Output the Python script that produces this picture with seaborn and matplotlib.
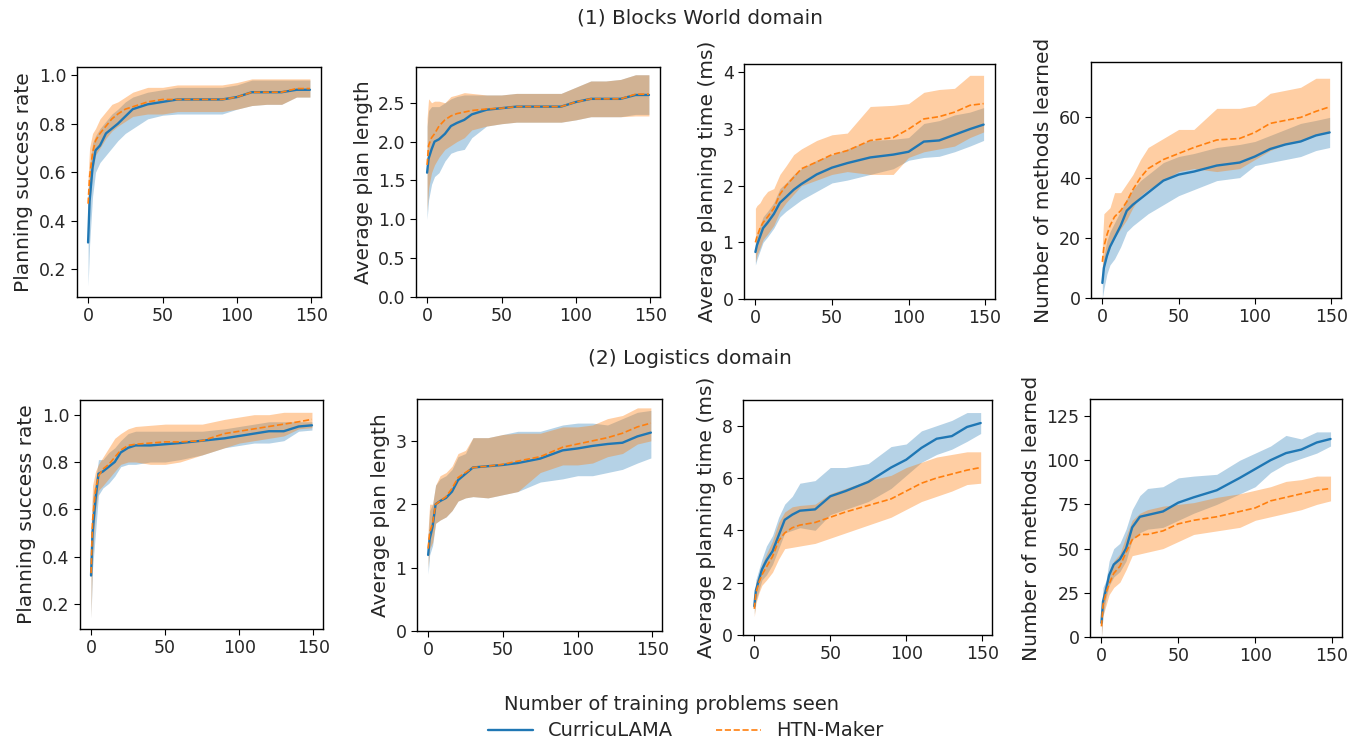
import matplotlib
matplotlib.use("Agg")
import matplotlib.pyplot as plt
import seaborn as sns

# number of training problems seen (checkpoints)
X = [0, 1, 3, 5, 8, 12, 16, 20, 25, 30, 40, 50, 60, 75, 90, 100, 110, 120, 130, 140, 149]

# ---- (1) Blocks World ----
BW_SUCC_CL = [0.31, 0.48, 0.62, 0.69, 0.71, 0.76, 0.78, 0.80, 0.83, 0.86, 0.88, 0.89, 0.90, 0.90, 0.90, 0.91, 0.93, 0.93, 0.93, 0.94, 0.94]
BW_SUCC_CL_LO = [0.13, 0.30, 0.50, 0.60, 0.64, 0.67, 0.70, 0.73, 0.76, 0.78, 0.82, 0.835, 0.84, 0.84, 0.84, 0.86, 0.875, 0.88, 0.88, 0.91, 0.91]
BW_SUCC_CL_HI = [0.46, 0.62, 0.72, 0.75, 0.78, 0.81, 0.84, 0.86, 0.89, 0.91, 0.93, 0.94, 0.95, 0.95, 0.95, 0.96, 0.98, 0.98, 0.98, 0.98, 0.98]
BW_SUCC_HM = [0.47, 0.58, 0.68, 0.73, 0.76, 0.79, 0.82, 0.84, 0.86, 0.87, 0.89, 0.90, 0.90, 0.90, 0.90, 0.91, 0.93, 0.93, 0.93, 0.945, 0.945]
BW_SUCC_HM_LO = [0.33, 0.46, 0.60, 0.67, 0.70, 0.74, 0.77, 0.79, 0.81, 0.83, 0.84, 0.84, 0.85, 0.85, 0.85, 0.86, 0.875, 0.88, 0.88, 0.91, 0.91]
BW_SUCC_HM_HI = [0.58, 0.70, 0.76, 0.78, 0.82, 0.85, 0.88, 0.89, 0.91, 0.93, 0.95, 0.95, 0.96, 0.96, 0.96, 0.97, 0.985, 0.985, 0.985, 0.985, 0.985]

BW_LEN_CL = [1.60, 1.78, 1.90, 2.00, 2.03, 2.10, 2.20, 2.24, 2.28, 2.35, 2.41, 2.43, 2.45, 2.45, 2.45, 2.51, 2.55, 2.55, 2.55, 2.60, 2.60]
BW_LEN_CL_LO = [1.00, 1.25, 1.45, 1.55, 1.60, 1.75, 1.85, 1.88, 1.90, 2.05, 2.20, 2.23, 2.25, 2.25, 2.25, 2.28, 2.32, 2.32, 2.32, 2.35, 2.35]
BW_LEN_CL_HI = [2.20, 2.40, 2.45, 2.45, 2.45, 2.50, 2.55, 2.58, 2.60, 2.60, 2.60, 2.60, 2.62, 2.62, 2.62, 2.70, 2.78, 2.78, 2.80, 2.86, 2.86]
BW_LEN_HM = [1.70, 1.95, 2.05, 2.10, 2.20, 2.28, 2.33, 2.36, 2.38, 2.40, 2.42, 2.43, 2.45, 2.45, 2.45, 2.51, 2.55, 2.55, 2.55, 2.61, 2.61]
BW_LEN_HM_LO = [1.10, 1.40, 1.60, 1.70, 1.80, 1.90, 1.95, 2.00, 2.05, 2.15, 2.20, 2.23, 2.25, 2.25, 2.25, 2.28, 2.32, 2.32, 2.32, 2.33, 2.33]
BW_LEN_HM_HI = [2.30, 2.55, 2.50, 2.52, 2.52, 2.50, 2.58, 2.60, 2.63, 2.62, 2.60, 2.60, 2.62, 2.62, 2.62, 2.70, 2.78, 2.78, 2.80, 2.86, 2.86]

BW_TIME_CL = [0.83, 0.95, 1.10, 1.25, 1.35, 1.50, 1.70, 1.80, 1.93, 2.03, 2.20, 2.32, 2.40, 2.50, 2.55, 2.60, 2.78, 2.80, 2.90, 3.00, 3.08]
BW_TIME_CL_LO = [0.60, 0.70, 0.85, 1.00, 1.10, 1.25, 1.45, 1.55, 1.65, 1.75, 1.90, 2.05, 2.10, 2.20, 2.30, 2.45, 2.50, 2.52, 2.60, 2.70, 2.80]
BW_TIME_CL_HI = [1.00, 1.15, 1.30, 1.45, 1.55, 1.70, 1.95, 2.05, 2.20, 2.30, 2.45, 2.55, 2.65, 2.80, 2.82, 2.85, 3.10, 3.15, 3.25, 3.30, 3.38]
BW_TIME_HM = [1.00, 1.10, 1.25, 1.35, 1.45, 1.60, 1.85, 2.00, 2.15, 2.30, 2.42, 2.55, 2.62, 2.80, 2.85, 3.00, 3.18, 3.22, 3.30, 3.42, 3.45]
BW_TIME_HM_LO = [0.65, 0.78, 0.90, 1.05, 1.15, 1.30, 1.55, 1.70, 1.85, 2.00, 2.10, 2.20, 2.25, 2.20, 2.20, 2.50, 2.60, 2.65, 2.70, 2.85, 2.95]
BW_TIME_HM_HI = [1.60, 1.65, 1.70, 1.80, 1.90, 1.95, 2.20, 2.35, 2.55, 2.65, 2.80, 2.90, 2.93, 3.40, 3.42, 3.45, 3.65, 3.70, 3.72, 3.95, 3.95]

BW_METH_CL = [5, 10, 14, 17, 20, 24, 29, 31, 33, 35, 39, 41, 42, 44, 45, 47, 49.5, 51, 52, 54, 55]
BW_METH_CL_LO = [0, 3, 8, 11, 13, 17, 22, 24, 26, 28, 31, 34, 36, 39, 40, 44, 45, 46, 47, 49, 50]
BW_METH_CL_HI = [10, 14, 19, 22, 25, 29, 33, 36, 39, 41, 45, 47, 48, 50, 51, 52, 54, 56, 58, 59, 60]
BW_METH_HM = [12, 17, 21, 24, 27, 29, 32, 36, 40, 43, 46, 48, 50, 52.5, 53, 55, 58, 59, 60, 62, 63.5]
BW_METH_HM_LO = [5, 10, 14, 17, 20, 23, 26, 30, 34, 36, 39, 42, 43, 42, 43, 46, 49, 51, 52, 54, 55]
BW_METH_HM_HI = [18, 28, 29, 30, 35, 35, 38, 41, 46, 50, 53, 56, 56, 63, 63, 64, 68, 69, 70, 73, 73]

# ---- (2) Logistics ----
LG_SUCC_CL = [0.32, 0.50, 0.64, 0.75, 0.76, 0.78, 0.80, 0.84, 0.86, 0.87, 0.87, 0.875, 0.88, 0.89, 0.90, 0.91, 0.92, 0.93, 0.93, 0.95, 0.955]
LG_SUCC_CL_LO = [0.14, 0.35, 0.50, 0.66, 0.69, 0.71, 0.74, 0.78, 0.79, 0.79, 0.80, 0.80, 0.81, 0.83, 0.86, 0.87, 0.88, 0.88, 0.89, 0.93, 0.935]
LG_SUCC_CL_HI = [0.50, 0.65, 0.72, 0.81, 0.81, 0.84, 0.86, 0.89, 0.92, 0.93, 0.93, 0.93, 0.93, 0.93, 0.94, 0.95, 0.96, 0.97, 0.97, 0.97, 0.97]
LG_SUCC_HM = [0.33, 0.55, 0.68, 0.74, 0.77, 0.79, 0.82, 0.85, 0.87, 0.875, 0.88, 0.885, 0.885, 0.89, 0.92, 0.93, 0.94, 0.95, 0.96, 0.97, 0.98]
LG_SUCC_HM_LO = [0.14, 0.40, 0.60, 0.68, 0.70, 0.73, 0.76, 0.79, 0.80, 0.80, 0.79, 0.79, 0.80, 0.83, 0.86, 0.88, 0.89, 0.90, 0.91, 0.94, 0.945]
LG_SUCC_HM_HI = [0.50, 0.70, 0.76, 0.79, 0.82, 0.86, 0.90, 0.92, 0.94, 0.95, 0.955, 0.96, 0.96, 0.96, 0.98, 0.99, 1.00, 1.00, 1.01, 1.01, 1.01]

LG_LEN_CL = [1.20, 1.45, 1.65, 2.00, 2.05, 2.10, 2.20, 2.38, 2.48, 2.58, 2.60, 2.62, 2.65, 2.72, 2.85, 2.88, 2.92, 2.95, 2.97, 3.07, 3.13]
LG_LEN_CL_LO = [0.90, 1.20, 1.35, 1.70, 1.75, 1.80, 1.90, 2.05, 2.10, 2.12, 2.10, 2.15, 2.20, 2.35, 2.40, 2.45, 2.45, 2.50, 2.55, 2.65, 2.73]
LG_LEN_CL_HI = [1.50, 1.90, 2.00, 2.30, 2.40, 2.45, 2.55, 2.75, 2.80, 3.05, 3.05, 3.10, 3.15, 3.15, 3.25, 3.28, 3.28, 3.25, 3.35, 3.45, 3.48]
LG_LEN_HM = [1.30, 1.55, 1.70, 2.00, 2.05, 2.12, 2.25, 2.42, 2.50, 2.58, 2.60, 2.63, 2.68, 2.75, 2.90, 2.95, 3.00, 3.05, 3.12, 3.22, 3.28]
LG_LEN_HM_LO = [1.00, 1.30, 1.40, 1.70, 1.75, 1.80, 1.90, 2.05, 2.10, 2.12, 2.10, 2.15, 2.20, 2.50, 2.62, 2.62, 2.65, 2.75, 2.80, 2.95, 3.00]
LG_LEN_HM_HI = [1.60, 2.00, 2.00, 2.30, 2.45, 2.50, 2.60, 2.80, 2.85, 3.05, 3.05, 3.10, 3.12, 3.12, 3.22, 3.22, 3.25, 3.35, 3.40, 3.52, 3.52]

LG_TIME_CL = [1.1, 1.7, 2.1, 2.5, 2.85, 3.2, 3.8, 4.4, 4.6, 4.75, 4.8, 5.3, 5.5, 5.85, 6.4, 6.7, 7.15, 7.5, 7.6, 7.95, 8.1]
LG_TIME_CL_LO = [0.8, 1.3, 1.7, 2.1, 2.3, 2.7, 3.3, 3.9, 4.0, 4.1, 4.0, 4.6, 4.8, 5.1, 5.6, 6.1, 6.6, 6.9, 7.1, 7.4, 7.7]
LG_TIME_CL_HI = [1.5, 2.1, 2.5, 2.9, 3.4, 3.8, 4.5, 5.0, 5.3, 5.8, 5.9, 6.4, 6.4, 6.55, 7.2, 7.3, 7.8, 8.0, 8.2, 8.5, 8.5]
LG_TIME_HM = [1.0, 1.6, 2.0, 2.3, 2.6, 3.0, 3.6, 3.9, 4.1, 4.2, 4.3, 4.5, 4.7, 4.95, 5.2, 5.5, 5.8, 6.0, 6.15, 6.3, 6.4]
LG_TIME_HM_LO = [0.7, 1.2, 1.6, 1.9, 2.1, 2.4, 2.9, 3.3, 3.35, 3.4, 3.5, 3.7, 3.9, 4.2, 4.5, 4.8, 5.1, 5.3, 5.5, 5.75, 5.8]
LG_TIME_HM_HI = [1.3, 2.0, 2.3, 2.7, 3.1, 3.6, 4.3, 4.7, 4.9, 4.95, 5.0, 5.4, 5.6, 5.9, 6.1, 6.4, 6.6, 6.8, 6.9, 7.0, 7.0]

LG_METH_CL = [8, 20, 27, 35, 41, 44, 50, 62, 68, 69, 71, 76, 79, 83, 90, 95, 100, 104, 106, 110, 112]
LG_METH_CL_LO = [0, 12, 22, 29, 34, 37, 43, 55, 59, 61, 62, 66, 70, 75, 81, 85, 93, 98, 101, 104, 108]
LG_METH_CL_HI = [15, 28, 32, 43, 50, 53, 61, 72, 80, 84, 85, 90, 91, 92, 100, 104, 108, 114, 112, 116, 116]
LG_METH_HM = [6, 18, 25, 30, 36, 40, 48, 55, 58, 58, 60, 64, 66, 68, 71, 73, 77, 79, 81, 83, 84]
LG_METH_HM_LO = [0, 12, 18, 24, 28, 31, 38, 46, 47, 48, 50, 54, 58, 60, 62, 66, 68, 70, 72, 75, 77]
LG_METH_HM_HI = [12, 25, 30, 35, 43, 47, 57, 66, 70, 72, 74, 75, 76, 79, 81, 83, 85, 88, 89, 91, 91]

YLABELS = ["Planning success rate", "Average plan length",
           "Average planning time (ms)", "Number of methods learned"]
ROW_TITLES = ["(1) Blocks World domain", "(2) Logistics domain"]
SERIES_NAMES = ["CurricuLAMA", "HTN-Maker"]

panels = [
    (BW_SUCC_CL, BW_SUCC_CL_LO, BW_SUCC_CL_HI, BW_SUCC_HM, BW_SUCC_HM_LO, BW_SUCC_HM_HI),
    (BW_LEN_CL, BW_LEN_CL_LO, BW_LEN_CL_HI, BW_LEN_HM, BW_LEN_HM_LO, BW_LEN_HM_HI),
    (BW_TIME_CL, BW_TIME_CL_LO, BW_TIME_CL_HI, BW_TIME_HM, BW_TIME_HM_LO, BW_TIME_HM_HI),
    (BW_METH_CL, BW_METH_CL_LO, BW_METH_CL_HI, BW_METH_HM, BW_METH_HM_LO, BW_METH_HM_HI),
    (LG_SUCC_CL, LG_SUCC_CL_LO, LG_SUCC_CL_HI, LG_SUCC_HM, LG_SUCC_HM_LO, LG_SUCC_HM_HI),
    (LG_LEN_CL, LG_LEN_CL_LO, LG_LEN_CL_HI, LG_LEN_HM, LG_LEN_HM_LO, LG_LEN_HM_HI),
    (LG_TIME_CL, LG_TIME_CL_LO, LG_TIME_CL_HI, LG_TIME_HM, LG_TIME_HM_LO, LG_TIME_HM_HI),
    (LG_METH_CL, LG_METH_CL_LO, LG_METH_CL_HI, LG_METH_HM, LG_METH_HM_LO, LG_METH_HM_HI),
]

# axis limits and ticks per panel
ylims = [(0.085, 1.034), (0, 2.96), (0, 4.15), (0, 78.4),
         (0.094, 1.062), (0, 3.66), (0, 8.98), (0, 134.6)]
yticks = [[0.2, 0.4, 0.6, 0.8, 1.0], [0.0, 0.5, 1.0, 1.5, 2.0, 2.5], [0, 1, 2, 3, 4], [0, 20, 40, 60],
          [0.2, 0.4, 0.6, 0.8, 1.0], [0, 1, 2, 3], [0, 2, 4, 6, 8], [0, 25, 50, 75, 100, 125]]

# axes boxes in pixels: left, right, top, bottom
boxes = [(77, 321, 67, 297), (416, 660, 67, 297), (744, 995, 64, 299), (1091, 1341, 62, 298),
         (80, 323, 400, 629), (417, 662, 399, 631), (743, 992, 400, 635), (1090, 1342, 399, 637)]

sns.set_style("ticks")
plt.rcParams["font.family"] = ["DejaVu Sans"]
W, H = 1364, 742
fig = plt.figure(figsize=(W / 100, H / 100), dpi=100)

blue, orange = "#1f77b4", "#ff7f0e"
for i, (data, box) in enumerate(zip(panels, boxes)):
    l, r, t, b = box
    ax = fig.add_axes([l / W, 1 - b / H, (r - l) / W, (b - t) / H])
    cl, cl_lo, cl_hi, hm, hm_lo, hm_hi = data
    ax.fill_between(X, cl_lo, cl_hi, color=blue, alpha=0.33, lw=0)
    ax.fill_between(X, hm_lo, hm_hi, color=orange, alpha=0.38, lw=0)
    sns.lineplot(x=X, y=cl, ax=ax, color=blue, lw=1.7,
                 errorbar=None, label=SERIES_NAMES[0] if i == 0 else None)
    sns.lineplot(x=X, y=hm, ax=ax, color=orange, lw=1.2, ls="--",
                 errorbar=None, label=SERIES_NAMES[1] if i == 0 else None)
    ax.set_xlim(-7.45, 156.45)
    ax.set_xticks([0, 50, 100, 150])
    ax.set_ylim(*ylims[i])
    ax.set_yticks(yticks[i])
    ax.set_ylabel(YLABELS[i % 4], fontsize=14.5)
    ax.tick_params(labelsize=12.5, length=4, color="black")
    for s in ax.spines.values():
        s.set_color("black")
        s.set_linewidth(1.0)
    if i == 0:
        handles, labels = ax.get_legend_handles_labels()
    if ax.get_legend():
        ax.get_legend().remove()

fig.text(700 / W, 1 - 18 / H, ROW_TITLES[0], ha="center", va="center", fontsize=14.5)
fig.text(690 / W, 1 - 358 / H, ROW_TITLES[1], ha="center", va="center", fontsize=14.5)
fig.text(671 / W, 1 - 705 / H, "Number of training problems seen", ha="center", va="center", fontsize=14)
fig.legend(handles, labels, loc="center", bbox_to_anchor=(686 / W, 1 - 731 / H), ncol=2,
           frameon=False, fontsize=14, handlelength=2.3, columnspacing=2.2, borderpad=0)

fig.savefig("out.png", dpi=100)
